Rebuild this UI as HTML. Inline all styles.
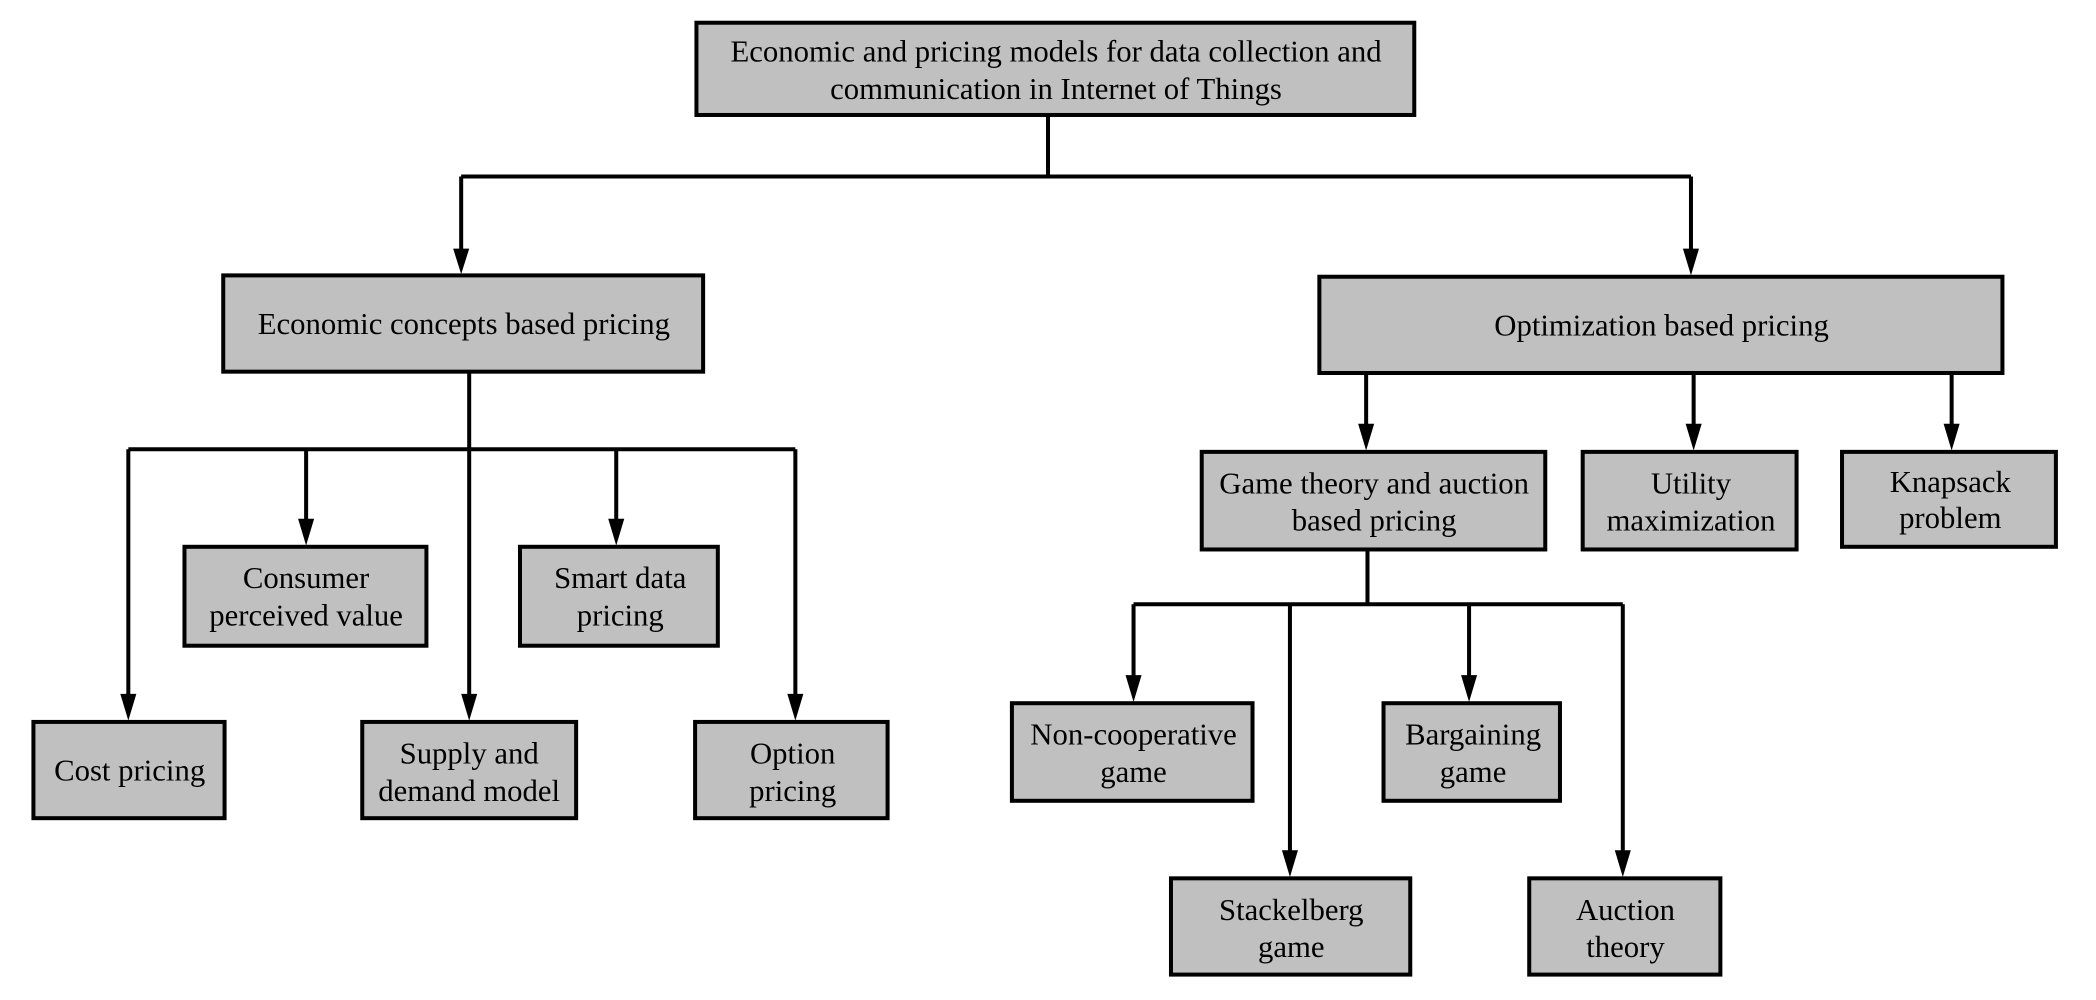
<!DOCTYPE html>
<html><head><meta charset="utf-8"><style>html,body{margin:0;padding:0;background:#fff}svg{display:block}</style></head>
<body>
<svg width="2096" height="1000" viewBox="0 0 1568 748" preserveAspectRatio="none" xmlns="http://www.w3.org/2000/svg">
<g fill="none" stroke="#000" stroke-width="3">
<path d="M784,86 V132 M345,132 H1265"/>
<path d="M345,132 V190"/>
<path d="M1265,132 V190"/>
<path d="M351,278 V523"/>
<path d="M96,336 H595"/>
<path d="M96,336 V523"/>
<path d="M229,336 V392"/>
<path d="M461,336 V392"/>
<path d="M595,336 V523"/>
<path d="M1022,279 V321"/>
<path d="M1267,279 V321"/>
<path d="M1460,279 V321"/>
<path d="M1023,411 V452 M848,452 H1214"/>
<path d="M848,452 V509"/>
<path d="M965,452 V640"/>
<path d="M1099,452 V509"/>
<path d="M1214,452 V640"/>
</g>
<g fill="#000">
<polygon points="339,186 351,186 345,205"/>
<polygon points="1259,186 1271,186 1265,206"/>
<polygon points="345,519 357,519 351,539"/>
<polygon points="90,519 102,519 96,539"/>
<polygon points="223,388 235,388 229,408"/>
<polygon points="455,388 467,388 461,408"/>
<polygon points="589,519 601,519 595,539"/>
<polygon points="1016,317 1028,317 1022,337"/>
<polygon points="1261,317 1273,317 1267,337"/>
<polygon points="1454,317 1466,317 1460,337"/>
<polygon points="842,505 854,505 848,525"/>
<polygon points="959,636 971,636 965,656"/>
<polygon points="1093,505 1105,505 1099,525"/>
<polygon points="1208,636 1220,636 1214,656"/>
</g>
<g fill="#c0c0c0" stroke="#000" stroke-width="3">
<rect x="521" y="17" width="537" height="69"/>
<rect x="167" y="206" width="359" height="72"/>
<rect x="987" y="207" width="511" height="72"/>
<rect x="138" y="409" width="181" height="74"/>
<rect x="389" y="409" width="148" height="74"/>
<rect x="25" y="540" width="143" height="72"/>
<rect x="271" y="540" width="160" height="72"/>
<rect x="520" y="540" width="144" height="72"/>
<rect x="899" y="338" width="257" height="73"/>
<rect x="1184" y="338" width="160" height="73"/>
<rect x="1378" y="338" width="160" height="71"/>
<rect x="757" y="526" width="180" height="73"/>
<rect x="1035" y="526" width="132" height="73"/>
<rect x="876" y="657" width="179" height="72"/>
<rect x="1144" y="657" width="143" height="72"/>
</g>
<g font-family="Liberation Serif, serif" font-size="23" text-anchor="middle" fill="#000">
<text x="790" y="46">Economic and pricing models for data collection and</text>
<text x="790" y="74">communication in  Internet of Things</text>
<text x="347" y="250">Economic concepts based pricing</text>
<text x="1243" y="251">Optimization based pricing</text>
<text x="229" y="440">Consumer</text><text x="229" y="468">perceived value</text>
<text x="464" y="440">Smart data</text><text x="464" y="468">pricing</text>
<text x="97" y="584">Cost pricing</text>
<text x="351" y="571">Supply and</text><text x="351" y="599">demand model</text>
<text x="593" y="571">Option</text><text x="593" y="599">pricing</text>
<text x="1028" y="369">Game theory and auction</text><text x="1028" y="397">based pricing</text>
<text x="1265" y="369">Utility</text><text x="1265" y="397">maximization</text>
<text x="1459" y="368">Knapsack</text><text x="1459" y="395">problem</text>
<text x="848" y="557">Non-cooperative</text><text x="848" y="585">game</text>
<text x="1102" y="557">Bargaining</text><text x="1102" y="585">game</text>
<text x="966" y="688">Stackelberg</text><text x="966" y="716">game</text>
<text x="1216" y="688">Auction</text><text x="1216" y="716">theory</text>
</g>
</svg>
</body></html>
